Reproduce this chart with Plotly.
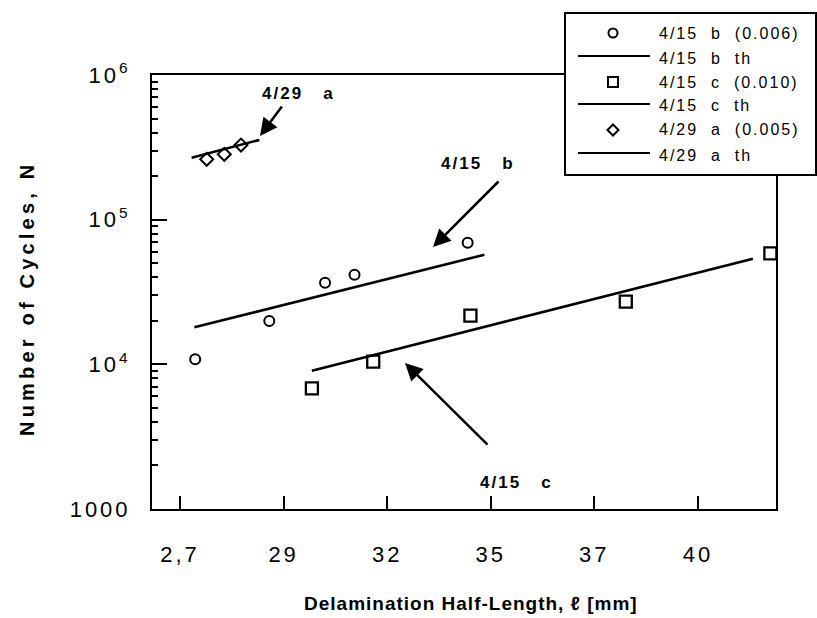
import plotly.graph_objects as go

# ---- measured specimens: delamination half-length [mm] vs. cycles ----
b_len = [27.28, 29.14, 30.54, 31.28, 34.12]
b_cycles = [10840, 19950, 36650, 41650, 69300]
b_th_len = [27.26, 34.54]
b_th_cycles = [18030, 57260]

c_len = [30.21, 31.75, 34.19, 38.09, 41.72]
c_cycles = [6830, 10430, 21690, 27100, 58500]
c_th_len = [30.21, 41.28]
c_th_cycles = [9040, 53700]

a_len = [27.57, 28.01, 28.43]
a_cycles = [261300, 283000, 328000]
a_th_len = [27.19, 28.89]
a_th_cycles = [268000, 355700]

x_tickvals = [26.9, 29.5, 32.1, 34.7, 37.3, 39.9]
x_ticktext = ["2,7", "29", "32", "35", "37", "40"]
y_tickvals = [1e3, 1e4, 1e5, 1e6]
y_ticktext = ["1000", "10<sup>4</sup>", "10<sup>5</sup>", "10<sup>6</sup>"]
y_minor = [k * 10 ** e for e in (3, 4, 5) for k in range(2, 10)]

legend_labels = [
    "4/15\u00a0 b\u00a0 (0.006)",
    "4/15\u00a0 b\u00a0 th",
    "4/15\u00a0 c\u00a0 (0.010)",
    "4/15\u00a0 c\u00a0 th",
    "4/29\u00a0 a\u00a0 (0.005)",
    "4/29\u00a0 a\u00a0 th",
]

FONT = "Liberation Sans, Arial, Helvetica, sans-serif"
INK = "black"

# plot area in pixels (used for placing decorations in paper units)
W, H = 817, 618
L, R, T, B = 152, 776, 75, 509


def px(x):
    return (x - L) / (R - L)


def py(y):
    return (B - y) / (B - T)


def spaced(s, gap):
    return f'<span style="letter-spacing:{gap}px">{s}</span>'


fig = go.Figure()

marker_line = dict(color=INK, width=2)
fig.add_trace(go.Scatter(x=b_len, y=b_cycles, mode="markers",
                         marker=dict(symbol="circle-open", size=10, line=marker_line, color=INK),
                         cliponaxis=False, showlegend=False))
fig.add_trace(go.Scatter(x=b_th_len, y=b_th_cycles, mode="lines",
                         line=dict(color=INK, width=2.5), showlegend=False))
fig.add_trace(go.Scatter(x=c_len, y=c_cycles, mode="markers",
                         marker=dict(symbol="square-open", size=12, line=dict(color=INK, width=2.3), color=INK),
                         cliponaxis=False, showlegend=False))
fig.add_trace(go.Scatter(x=c_th_len, y=c_th_cycles, mode="lines",
                         line=dict(color=INK, width=2.5), showlegend=False))
fig.add_trace(go.Scatter(x=a_len, y=a_cycles, mode="markers",
                         marker=dict(symbol="diamond-open", size=10, line=marker_line, color=INK),
                         cliponaxis=False, showlegend=False))
fig.add_trace(go.Scatter(x=a_th_len, y=a_th_cycles, mode="lines",
                         line=dict(color=INK, width=2.5), showlegend=False))

axis_common = dict(
    showline=True, linewidth=2, linecolor=INK, mirror=True,
    ticks="inside", tickwidth=2, tickcolor=INK,
    showgrid=False, zeroline=False,
    tickfont=dict(family=FONT, size=22, color=INK),
)

fig.update_xaxes(
    range=[26.196, 41.861], tickmode="array",
    tickvals=x_tickvals, ticktext=[spaced(t, 3) for t in x_ticktext],
    ticklen=13, ticklabelstandoff=25, **axis_common,
)
fig.update_yaxes(
    type="log", range=[3, 6], tickmode="array",
    tickvals=y_tickvals, ticktext=[spaced(t, 3) for t in y_ticktext],
    ticklen=15, ticklabelstandoff=15,
    minor=dict(ticks="inside", ticklen=6, tickwidth=1.5, tickcolor=INK,
               tickmode="array", tickvals=y_minor, showgrid=False),
    **axis_common,
)

annotations = []
shapes = []

# axis titles
annotations.append(dict(
    text=spaced("Number of Cycles, N", 4.2), textangle=-90,
    x=px(27), y=py(299), xref="paper", yref="paper", showarrow=False,
    xanchor="center", yanchor="middle",
    font=dict(family=FONT, size=20, color=INK, weight="bold"),
))
annotations.append(dict(
    text=spaced("Delamination Half-Length, \u2113 [mm]", 1), x=px(471), y=py(603),
    xref="paper", yref="paper", showarrow=False, xanchor="center", yanchor="middle",
    font=dict(family=FONT, size=19, color=INK, weight="bold"),
))

# curve labels and pointer arrows
label_font = dict(family=FONT, size=17, color=INK, weight="bold")
for txt, (tx, ty), (hx, hy), (tailx, taily) in [
    ("4/29\u00a0\u00a0 a", (298, 93), (260, 136), (283, 105)),
    ("4/15\u00a0\u00a0 b", (478, 164), (433, 247), (500, 180)),
    ("4/15\u00a0\u00a0 c", (516, 482), (405, 363), (489, 446)),
]:
    annotations.append(dict(text=spaced(txt, 2), x=px(tx), y=py(ty), xref="paper", yref="paper",
                            xanchor="center", yanchor="middle",
                            showarrow=False, font=label_font))
    annotations.append(dict(text="", x=px(hx), y=py(hy), xref="paper", yref="paper",
                            showarrow=True, ax=tailx - hx, ay=taily - hy,
                            arrowhead=2, arrowsize=1.4, arrowwidth=2.5, arrowcolor=INK))

# legend box
shapes.append(dict(type="rect", xref="paper", yref="paper", layer="above",
                   x0=px(565), x1=px(816), y0=py(175), y1=py(13),
                   fillcolor="white", line=dict(color=INK, width=2)))
rows_y = [33, 58, 82, 106, 130, 155]
sym_x = 613
for i, lab in enumerate(legend_labels):
    yy = rows_y[i]
    annotations.append(dict(text=spaced(lab, 2), x=px(657), y=py(yy), xref="paper", yref="paper",
                            xanchor="left", yanchor="middle", showarrow=False,
                            font=dict(family=FONT, size=16, color=INK)))
    if i % 2 == 1:
        shapes.append(dict(type="line", xref="paper", yref="paper", layer="above",
                           x0=px(578), x1=px(650), y0=py(yy - 2), y1=py(yy - 2),
                           line=dict(color=INK, width=2)))
anchor = dict(xref="paper", yref="paper", xsizemode="pixel", ysizemode="pixel",
              layer="above", line=dict(color=INK, width=2), fillcolor="rgba(0,0,0,0)")
shapes.append(dict(type="circle", xanchor=px(sym_x), yanchor=py(rows_y[0]),
                   x0=-4.5, x1=4.5, y0=-4.5, y1=4.5, **anchor))
shapes.append(dict(type="rect", xanchor=px(sym_x), yanchor=py(rows_y[2]),
                   x0=-5, x1=5, y0=-5, y1=5, **anchor))
shapes.append(dict(type="path", xanchor=px(sym_x), yanchor=py(rows_y[4]),
                   path="M0,5.5 L5.5,0 L0,-5.5 L-5.5,0 Z", **anchor))

fig.update_layout(
    width=W, height=H,
    margin=dict(l=L, r=W - R, t=T, b=H - B),
    paper_bgcolor="white", plot_bgcolor="white",
    showlegend=False,
    annotations=annotations, shapes=shapes,
    font=dict(family=FONT, color=INK),
)

fig.write_html("out.html")
